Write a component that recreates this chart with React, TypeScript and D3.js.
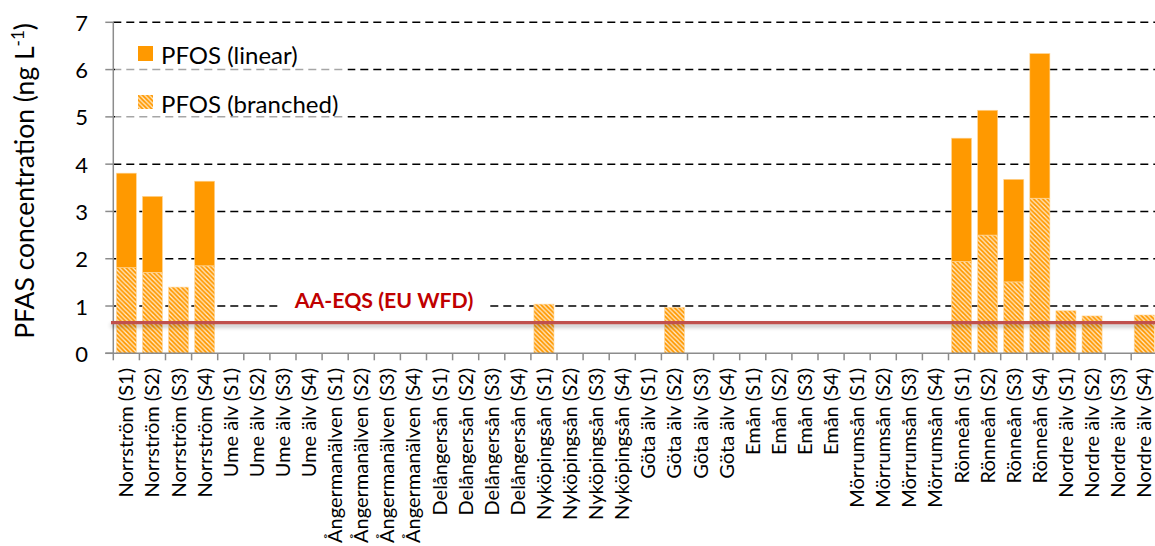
import React from "react";
import * as d3 from "d3";

const rivers = [
  "Norrström",
  "Ume älv",
  "Ångermanälven",
  "Delångersån",
  "Nyköpingsån",
  "Göta älv",
  "Emån",
  "Mörrumsån",
  "Rönneån",
  "Nordre älv",
];
const sites = ["S1", "S2", "S3", "S4"];

// PFOS branched (bottom, hatched) per river × site
const branched = [
  1.81, 1.71, 1.40, 1.85,
  0, 0, 0, 0,
  0, 0, 0, 0,
  0, 0, 0, 0,
  1.04, 0, 0, 0,
  0, 0.97, 0, 0,
  0, 0, 0, 0,
  0, 0, 0, 0,
  1.94, 2.50, 1.51, 3.28,
  0.90, 0.79, 0, 0.81,
];
// PFOS linear (top, solid)
const linear = [
  2.00, 1.61, 0, 1.79,
  0, 0, 0, 0,
  0, 0, 0, 0,
  0, 0, 0, 0,
  0, 0, 0, 0,
  0, 0, 0, 0,
  0, 0, 0, 0,
  0, 0, 0, 0,
  2.61, 2.64, 2.17, 3.06,
  0, 0, 0, 0,
];
const yTicks = [0, 1, 2, 3, 4, 5, 6, 7];
const eqsValue = 0.65;
const eqsLabel = "AA-EQS (EU WFD)";
const seriesNames = ["PFOS (linear)", "PFOS (branched)"];

const labels = rivers.flatMap((r) => sites.map((s) => `${r} (${s})`));

const W = 1155;
const H = 546;
const FONT = "Lato, 'Open Sans', sans-serif";
const ORANGE = "#ff9900";

export default function App() {
  const x = d3
    .scaleBand<string>()
    .domain(labels)
    .range([113.3, 113.3 + 40 * 26.1])
    .paddingInner(0.23)
    .paddingOuter(0.115);
  const y = d3.scaleLinear().domain([0, 7]).range([353.3, 22.3]);
  const x0 = 113.3;
  const xEnd = W;
  const step = x.step();
  const bw = x.bandwidth();

  const stack = d3
    .stack<number>()
    .keys(["b", "l"])
    .value((i, k) => (k === "b" ? branched[i] : linear[i]));
  const series = stack(d3.range(labels.length));

  const eqsY = y(eqsValue);

  return (
    <div style={{ position: "absolute", left: 0, top: 0 }}>
      <svg width={W} height={H} style={{ display: "block", fontFamily: FONT }}>
        <defs>
          <pattern id="hatch" patternUnits="userSpaceOnUse" width={4.5} height={4.5}>
            <rect width={4.5} height={4.5} fill={ORANGE} />
            <path
              d="M0,0 L4.5,4.5 M-1,3.5 L1,5.5 M3.5,-1 L5.5,1"
              stroke="#ffffff"
              strokeWidth={1.3}
              strokeOpacity={0.8}
            />
          </pattern>
          <filter id="blur" filterUnits="userSpaceOnUse" x={0} y={0} width={W} height={H}>
            <feGaussianBlur stdDeviation={2} />
          </filter>
        </defs>

        {/* gridlines */}
        {yTicks
          .filter((t) => t > 0)
          .map((t) => (
            <line
              key={"g" + t}
              x1={x0}
              x2={xEnd}
              y1={y(t)}
              y2={y(t)}
              stroke="#000"
              strokeWidth={1.5}
              strokeDasharray="8,5"
            />
          ))}

        {/* legend semi-transparent box */}
        <rect x={115} y={32} width={233} height={90} fill="#fff" fillOpacity={0.65} />

        {/* bars */}
        {series.map((s) =>
          s.map((d, i) => {
            const v = d[1] - d[0];
            if (v <= 0) return null;
            return (
              <rect
                key={s.key + i}
                x={x(labels[i])}
                y={y(d[1])}
                width={bw}
                height={y(d[0]) - y(d[1])}
                fill={s.key === "b" ? "url(#hatch)" : ORANGE}
                stroke="#ffd9a0"
                strokeWidth={0.6}
              />
            );
          })
        )}

        {/* axes */}
        <line x1={x0} x2={x0} y1={y(7)} y2={y(0)} stroke="#8c8c8c" strokeWidth={1.5} />
        <line x1={x0 - 8} x2={xEnd} y1={y(0)} y2={y(0)} stroke="#8c8c8c" strokeWidth={1.5} />
        {yTicks.map((t) => (
          <g key={"yt" + t}>
            <line x1={x0 - 8} x2={x0} y1={y(t)} y2={y(t)} stroke="#8c8c8c" strokeWidth={1.5} />
            <text
              x={88}
              y={y(t)}
              textAnchor="end"
              dominantBaseline="central"
              fontSize={22}
              fill="#000"
            >
              {t}
            </text>
          </g>
        ))}
        {d3.range(labels.length + 1).map((i) => (
          <line
            key={"xt" + i}
            x1={x0 + i * step}
            x2={x0 + i * step}
            y1={y(0)}
            y2={y(0) + 7}
            stroke="#8c8c8c"
            strokeWidth={1.5}
          />
        ))}
        {labels.map((l) => {
          const cx = (x(l) as number) + bw / 2 + 7;
          const ty = 368;
          return (
            <text
              key={"xl" + l}
              transform={`translate(${cx},${ty}) rotate(-90)`}
              textAnchor="end"
              fontSize={20}
              fill="#000"
            >
              {l}
            </text>
          );
        })}

        {/* y axis title */}
        <text
          transform={`translate(34,181) rotate(-90)`}
          textAnchor="middle"
          fontSize={26.5}
          fill="#000"
        >
          PFAS concentration (ng L
          <tspan dy={-10} fontSize={17}>-1</tspan>
          <tspan dy={10}>)</tspan>
        </text>

        {/* EQS line with soft shadow */}
        <line
          x1={111}
          x2={xEnd}
          y1={eqsY + 3}
          y2={eqsY + 3}
          stroke="#000"
          strokeOpacity={0.3}
          strokeWidth={3}
          filter="url(#blur)"
        />
        <line x1={111} x2={xEnd} y1={eqsY} y2={eqsY} stroke="#c0504d" strokeWidth={3.2} />
        <rect x={279} y={293} width={211} height={18} fill="#fff" />
        <text
          x={384}
          y={300}
          textAnchor="middle"
          dominantBaseline="central"
          fontSize={21.3}
          fontWeight="bold"
          fill="#c00000"
        >
          {eqsLabel}
        </text>

        {/* legend */}
        <rect x={138} y={46} width={15} height={15} fill={ORANGE} />
        <text x={161} y={54} dominantBaseline="central" fontSize={24} fill="#000">
          {seriesNames[0]}
        </text>
        <rect x={138} y={95} width={15} height={14} fill="url(#hatch)" />
        <text x={161} y={103} dominantBaseline="central" fontSize={24} fill="#000">
          {seriesNames[1]}
        </text>
      </svg>
    </div>
  );
}
